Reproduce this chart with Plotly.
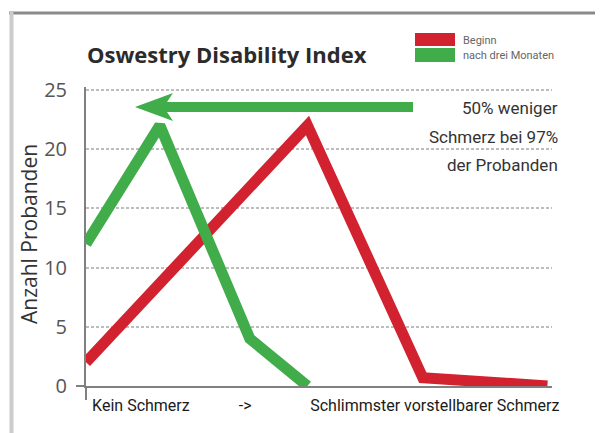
import plotly.graph_objects as go

# ---- data ----
pain_pos_begin = [0, 48, 73, 100]
count_begin = [2, 22, 0.7, 0]
pain_pos_3m = [0, 16, 35.5, 48]
count_3m = [12, 22, 4, 0]

series_names = ["Beginn", "nach drei Monaten"]
y_ticks = [0, 5, 10, 15, 20, 25]
x_tick_pos = [11.9, 34.5, 75.6]
x_tick_text = ["Kein Schmerz", "->", "Schlimmster vorstellbarer Schmerz"]
note_lines = ["50% weniger", "Schmerz bei 97%", "der Probanden"]

RED = "#D2222F"
GREEN = "#40AD4A"
NARROW = "Roboto, Liberation Sans, sans-serif"

fig = go.Figure()
fig.add_trace(go.Scatter(x=pain_pos_begin, y=count_begin, mode="lines",
                         line=dict(color=RED, width=11), name=series_names[0],
                         showlegend=False))
fig.add_trace(go.Scatter(x=pain_pos_3m, y=count_3m, mode="lines",
                         line=dict(color=GREEN, width=11), name=series_names[1],
                         showlegend=False))

# page body has an 8px margin -> work in reference pixels, shifted by OFF
OFF = 8
W, H = 603 - OFF, 433 - OFF
PLOT_L, PLOT_R, PLOT_T, PLOT_B = 86, 552, 87, 386   # reference pixel box
L = PLOT_L - OFF
T = PLOT_T - OFF
R = W - (PLOT_R - OFF)
B = H - (PLOT_B - OFF)
pw, ph = PLOT_R - PLOT_L, PLOT_B - PLOT_T

def px(xp):
    return (xp - PLOT_L) / pw

def py(yp):
    return (PLOT_B - yp) / ph

fig.update_layout(
    width=W, height=H,
    margin=dict(l=L, r=R, t=T, b=B),
    paper_bgcolor="white", plot_bgcolor="white",
    showlegend=False,
    xaxis=dict(range=[0, 101], showgrid=False, zeroline=False,
               showline=True, linecolor="#808080", linewidth=2,
               tickvals=x_tick_pos, ticktext=x_tick_text, ticks="",
               ticklabelstandoff=4,
               tickfont=dict(family=NARROW, size=16, color="#1a1a1a")),
    yaxis=dict(range=[0, 25.25], tickvals=y_ticks, showgrid=True,
               gridcolor="#bdbdbd", griddash="3px,2px", gridwidth=1.5,
               zeroline=False, showline=True, linecolor="#808080", linewidth=2,
               ticks="", ticklabelstandoff=13,
               tickfont=dict(family="Open Sans, sans-serif", size=20, color="#555")),
)

shapes = []
# frame
shapes.append(dict(type="line", xref="paper", yref="paper", x0=px(9), x1=px(603),
                   y0=py(13), y1=py(13), line=dict(color="#8a8a8a", width=3)))
shapes.append(dict(type="line", xref="paper", yref="paper", x0=px(11.5), x1=px(11.5),
                   y0=py(12), y1=py(433), line=dict(color="#cccccc", width=4)))
# axis extensions
shapes.append(dict(type="line", xref="paper", yref="paper", x0=px(76), x1=px(86),
                   y0=0, y1=0, line=dict(color="#808080", width=2)))
shapes.append(dict(type="line", xref="paper", yref="paper", x0=0, x1=0,
                   y0=0, y1=py(400), line=dict(color="#808080", width=2)))
# legend swatches
shapes.append(dict(type="rect", xref="paper", yref="paper", x0=px(415), x1=px(455),
                   y0=py(33), y1=py(46), fillcolor=RED, line=dict(width=0)))
shapes.append(dict(type="rect", xref="paper", yref="paper", x0=px(415), x1=px(455),
                   y0=py(48), y1=py(62), fillcolor=GREEN, line=dict(width=0)))
# big arrow (pixel path anchored at its tip)
shapes.append(dict(type="path", xref="paper", yref="paper",
                   xsizemode="pixel", ysizemode="pixel",
                   xanchor=px(135), yanchor=py(107),
                   path="M0,0 L38,14 L32,5 L278,5 L278,-5 L32,-5 L38,-14 Z",
                   fillcolor=GREEN, line=dict(width=0)))
fig.update_layout(shapes=shapes)

ann = []
ann.append(dict(text="<b>Oswestry Disability Index</b>", xref="paper", yref="paper",
                x=px(85), y=py(54), xanchor="left", yanchor="middle", showarrow=False,
                font=dict(family="Open Sans, sans-serif", size=22, color="#2b2b2b")))
ann.append(dict(text=series_names[0], xref="paper", yref="paper", x=px(461), y=py(40),
                xanchor="left", yanchor="middle", showarrow=False,
                font=dict(family=NARROW, size=11, color="#666")))
ann.append(dict(text=series_names[1], xref="paper", yref="paper", x=px(461), y=py(55),
                xanchor="left", yanchor="middle", showarrow=False,
                font=dict(family=NARROW, size=11, color="#666")))
for line_txt, yy in zip(note_lines, [108, 137, 165]):
    ann.append(dict(text=line_txt, xref="paper", yref="paper", x=px(560), y=py(yy),
                    xanchor="right", yanchor="middle", showarrow=False,
                    font=dict(family=NARROW, size=17, color="#333")))
ann.append(dict(text="Anzahl Probanden", xref="paper", yref="paper", x=px(29), y=py(234),
                xanchor="center", yanchor="middle", textangle=-90, showarrow=False,
                font=dict(family="Open Sans, sans-serif", size=21, color="#333")))
fig.update_layout(annotations=ann)

fig.write_html("out.html")
